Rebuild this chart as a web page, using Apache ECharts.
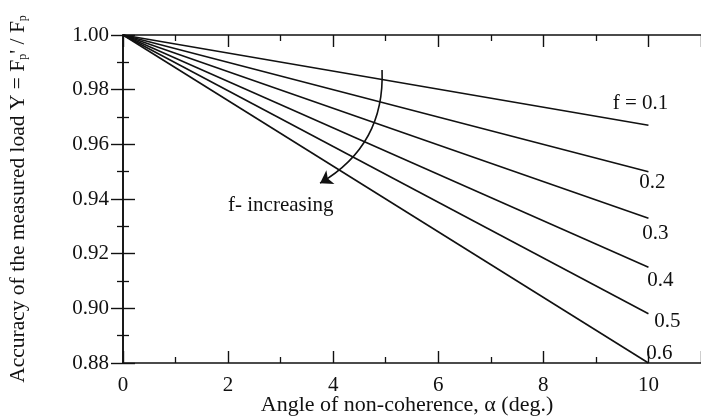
<!DOCTYPE html>
<html>
<head>
<meta charset="utf-8">
<script src="https://cdn.jsdelivr.net/npm/echarts@6/dist/echarts.min.js"></script>
<style>
  html, body { margin: 0; padding: 0; background: #fff; }
  #chart { width: 701px; height: 416px; }
</style>
</head>
<body>
<div id="chart"></div>
<script>
  // values
  const fLabels = ['f = 0.1', '0.2', '0.3', '0.4', '0.5', '0.6'];
  const angles = [0, 10];
  const accuracy = [
    [1.00, 0.967],
    [1.00, 0.950],
    [1.00, 0.933],
    [1.00, 0.915],
    [1.00, 0.898],
    [1.00, 0.880]
  ];
  // where each curve label sits relative to the line end (px)
  const labelOffsets = [[-8, -22], [4, 11], [7, 15], [12, 13], [19, 8], [11, -10]];
  // curved "f- increasing" arrow, data coords [angle, accuracy]
  const arrowFrom = [4.93, 0.9872];
  const arrowTo = [3.75, 0.9458];

  const FONT = 'Liberation Serif';
  const INK = '#111';

  const series = accuracy.map((ys, i) => ({
    name: fLabels[i],
    type: 'line',
    symbol: 'none',
    silent: true,
    lineStyle: { color: INK, width: 1.6 },
    data: ys.map((y, j) => [angles[j], y]),
    endLabel: {
      show: true,
      formatter: fLabels[i],
      fontFamily: FONT,
      fontSize: 21,
      color: INK,
      align: 'center',
      verticalAlign: 'middle',
      distance: 0,
      offset: labelOffsets[i]
    }
  }));

  series.push({
    type: 'lines',
    coordinateSystem: 'cartesian2d',
    silent: true,
    symbol: ['none', 'arrow'],
    symbolSize: 12,
    lineStyle: { color: INK, width: 1.6, curveness: 0.3, opacity: 1 },
    data: [{ coords: [arrowFrom, arrowTo] }]
  });

  const chart = echarts.init(document.getElementById('chart'));
  const axisCommon = {
    type: 'value',
    axisLine: { show: true, lineStyle: { color: INK, width: 1.6 } },
    axisTick: { show: true, inside: true, length: 12, lineStyle: { color: INK, width: 1.4 } },
    minorTick: { show: true, splitNumber: 2, length: 6, lineStyle: { color: INK, width: 1.3 } },
    splitLine: { show: false },
    minorSplitLine: { show: false }
  };

  chart.setOption({
    backgroundColor: '#fff',
    animation: false,
    grid: { left: 123, right: 0, top: 35, bottom: 53, containLabel: false, outerBoundsMode: 'none' },
    xAxis: [
      Object.assign({}, axisCommon, {
        min: 0, max: 11, interval: 2,
        position: 'bottom',
        name: 'Angle of non-coherence, \u03b1 (deg.)',
        nameLocation: 'middle',
        nameGap: 31,
        nameMoveOverlap: false,
        nameTextStyle: { fontFamily: FONT, fontSize: 22, color: INK, padding: [0, 10, 0, 0] },
        axisLabel: {
          fontFamily: FONT, fontSize: 21, color: INK, margin: 12,
          showMaxLabel: false
        }
      }),
      Object.assign({}, axisCommon, {
        min: 0, max: 11, interval: 2,
        position: 'top',
        axisLabel: { show: false }
      })
    ],
    yAxis: [
      Object.assign({}, axisCommon, {
        min: 0.88, max: 1.00, interval: 0.02,
        position: 'left',
        name: "Accuracy of the measured load Y = F{sub|p}' / F{sub|p}",
        nameLocation: 'middle',
        nameGap: 94,
        nameMoveOverlap: false,
        nameTextStyle: {
          fontFamily: FONT, fontSize: 21.5, color: INK,
          rich: { sub: { fontFamily: FONT, fontSize: 12, color: INK, verticalAlign: 'bottom', padding: [10, 0, 0, 0] } }
        },
        axisLabel: {
          fontFamily: FONT, fontSize: 21, color: INK, margin: 14,
          formatter: v => v.toFixed(2)
        }
      }),
      Object.assign({}, axisCommon, {
        min: 0.88, max: 1.00, interval: 0.02,
        position: 'right',
        axisLabel: { show: false }
      })
    ],
    graphic: [{
      type: 'text',
      left: 228,
      top: 195,
      style: { text: 'f- increasing', fontFamily: FONT, fontSize: 21, fill: INK }
    }],
    series: series
  });
</script>
</body>
</html>
